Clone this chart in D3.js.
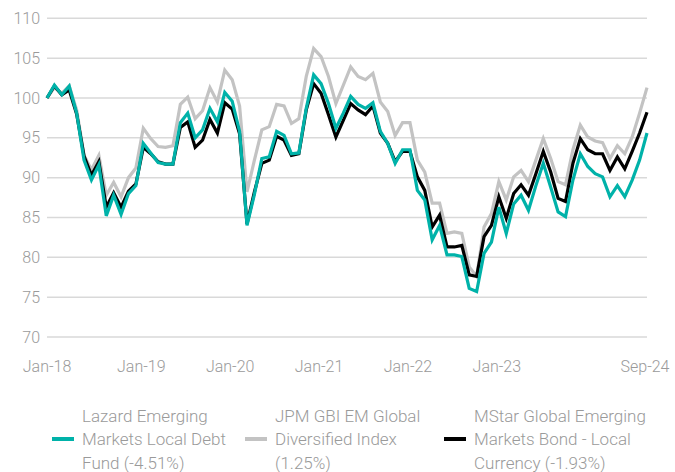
<!DOCTYPE html>
<html>
<head>
<meta charset="utf-8">
<script src="https://cdn.jsdelivr.net/npm/d3@7"></script>
<style>
  body { margin: 0; background: #fff; }
  text { font-family: Roboto, "Liberation Sans", sans-serif; font-weight: 300; }
</style>
</head>
<body>
<div id="canvas"></div>
<script>
// month-end points, Dec-17 base = 100
const months = [];
d3.timeMonths(new Date(2017, 11, 1), new Date(2024, 9, 1)).forEach(d => months.push(d3.timeFormat("%b-%y")(d)));

const lazard = [100.0, 101.6, 100.4, 101.5, 98.1, 92.2, 89.7, 91.6, 85.2, 87.8, 85.4, 88.0, 89.0,
  94.3, 93.1, 91.9, 91.7, 91.7, 96.9, 98.1, 95.0, 96.0, 98.7, 97.0, 100.7,
  99.6, 95.8, 84.0, 87.9, 92.4, 92.6, 95.8, 95.3, 93.0, 93.1, 98.7, 102.9,
  101.8, 99.3, 96.2, 98.1, 100.2, 99.2, 98.7, 99.4, 95.8, 94.3, 91.8, 93.5,
  93.5, 88.4, 87.2, 82.2, 84.0, 80.3, 80.3, 80.1, 76.1, 75.7, 80.5, 81.9,
  86.3, 83.0, 86.7, 87.8, 85.9, 89.0, 91.8, 88.8, 85.7, 85.1, 89.7, 93.0,
  91.4, 90.5, 90.1, 87.6, 89.0, 87.6, 89.7, 92.2, 95.6];

const jpm = [100.0, 101.3, 100.6, 101.5, 98.5, 92.8, 91.0, 92.8, 87.8, 89.4, 87.6, 90.0, 91.2,
  96.2, 94.9, 93.9, 93.8, 94.0, 99.2, 100.1, 97.4, 98.4, 101.3, 99.5, 103.5,
  102.3, 99.0, 88.2, 92.2, 96.0, 96.4, 99.2, 99.0, 96.8, 97.4, 102.7, 106.2,
  105.2, 102.7, 99.3, 101.6, 103.9, 102.7, 102.3, 103.1, 99.5, 98.3, 95.3, 96.9,
  96.9, 92.2, 90.7, 86.8, 86.8, 83.0, 83.2, 83.0, 78.8, 77.6, 83.8, 85.5,
  89.5, 87.2, 90.1, 90.9, 89.5, 92.2, 94.9, 92.4, 89.5, 89.1, 93.5, 96.6,
  95.1, 94.6, 94.4, 92.4, 94.0, 93.0, 95.1, 98.1, 101.3];

const mstar = [100.0, 101.5, 100.4, 101.0, 98.0, 92.7, 90.3, 92.0, 86.3, 88.1, 86.3, 88.3, 89.2,
  93.8, 93.0, 92.0, 91.7, 91.7, 96.3, 97.0, 93.8, 94.7, 97.3, 95.6, 99.4,
  98.6, 95.5, 84.2, 88.2, 91.8, 92.2, 95.2, 94.7, 92.8, 93.0, 98.5, 101.8,
  100.6, 97.9, 95.1, 97.2, 99.3, 98.5, 97.9, 99.0, 95.6, 94.3, 92.0, 93.3,
  93.3, 90.1, 88.4, 83.8, 85.3, 81.3, 81.3, 81.5, 77.8, 77.6, 82.6, 84.0,
  87.6, 84.9, 88.0, 89.1, 87.8, 90.5, 93.3, 90.7, 87.4, 87.0, 91.8, 94.9,
  93.5, 93.0, 93.0, 90.9, 92.6, 91.1, 93.3, 95.6, 98.2];

const yTicks = [70, 75, 80, 85, 90, 95, 100, 105, 110];
const tickLabels = ["Jan-18", "Jan-19", "Jan-20", "Jan-21", "Jan-22", "Jan-23", "Sep-24"];

const seriesNames = [
  ["Lazard Emerging", "Markets Local Debt", "Fund (-4.51%)"],
  ["JPM GBI EM Global", "Diversified Index", "(1.25%)"],
  ["MStar Global Emerging", "Markets Bond - Local", "Currency (-1.93%)"]
];
const colors = ["#00b2a9", "#c3c3c3", "#000000"];

const width = 675, height = 472;
const margin = { top: 18, left: 47, right: 28, bottom: 135 };

const svg = d3.select("#canvas").append("svg")
  .attr("width", width)
  .attr("height", height);

const x = d3.scalePoint()
  .domain(months)
  .range([margin.left, width - margin.right]);
const y = d3.scaleLinear()
  .domain([70, 110])
  .range([height - margin.bottom, margin.top + 0.3]);

// gridlines
svg.append("g")
  .selectAll("line")
  .data(yTicks)
  .join("line")
  .attr("x1", margin.left)
  .attr("x2", width - margin.right)
  .attr("y1", d => y(d))
  .attr("y2", d => y(d))
  .attr("stroke", "#d9d9d9")
  .attr("stroke-width", 1.5);

// y labels
svg.append("g")
  .selectAll("text")
  .data(yTicks)
  .join("text")
  .attr("x", 40)
  .attr("y", d => y(d))
  .attr("dy", "0.35em")
  .attr("text-anchor", "end")
  .attr("fill", "#9a9a9a")
  .attr("font-size", 16)
  .text(d => d);

// x labels: first one sits at the start of the axis
svg.append("g")
  .selectAll("text")
  .data(tickLabels)
  .join("text")
  .attr("x", (d, i) => i === 0 ? x(months[0]) : x(d) - 2)
  .attr("y", 366)
  .attr("dy", "0.35em")
  .attr("text-anchor", "middle")
  .attr("fill", "#9a9a9a")
  .attr("font-size", 16)
  .text(d => d);

const line = d3.line()
  .x((d, i) => x(months[i]))
  .y(d => y(d));

// gray under, black, teal on top
[[jpm, colors[1]], [mstar, colors[2]], [lazard, colors[0]]].forEach(([s, c]) => {
  svg.append("path")
    .datum(s)
    .attr("d", line)
    .attr("fill", "none")
    .attr("stroke", c)
    .attr("stroke-width", 3.2)
    .attr("stroke-linejoin", "miter");
});

// legend
const legendX = [52, 245, 444];
const leg = svg.append("g")
  .selectAll("g")
  .data(seriesNames)
  .join("g")
  .attr("transform", (d, i) => "translate(" + legendX[i] + ",0)");

leg.append("line")
  .attr("x1", 0)
  .attr("x2", 22)
  .attr("y1", 439)
  .attr("y2", 439)
  .attr("stroke", (d, i) => colors[i])
  .attr("stroke-width", 4);

leg.append("text")
  .attr("fill", "#9a9a9a")
  .attr("font-size", 17)
  .selectAll("tspan")
  .data(d => d)
  .join("tspan")
  .attr("x", 30)
  .attr("y", (d, i) => 416 + i * 23.5)
  .attr("dy", "0.35em")
  .text(d => d);
</script>
</body>
</html>
